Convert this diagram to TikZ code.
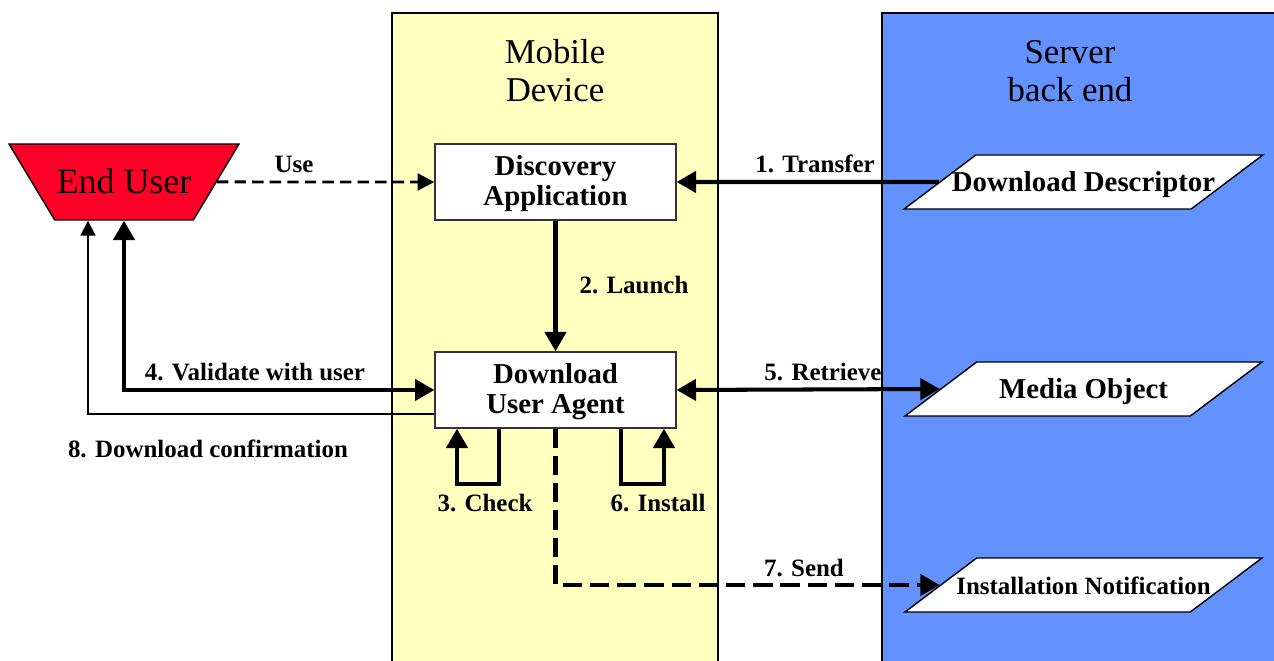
\documentclass[tikz,border=0pt]{standalone}
\usepackage{fontspec}
\setmainfont{Liberation Serif}
\usetikzlibrary{shapes.geometric, arrows.meta, positioning, calc}

\definecolor{deviceyellow}{RGB}{255,255,192}
\definecolor{serverblue}{RGB}{99,146,255}
\definecolor{userred}{RGB}{255,0,40}

\begin{document}
\begin{tikzpicture}[
        x=0.02cm, y=-0.02cm,
        panel/.style={draw=black, line width=0.9pt},
        panel title/.style={align=center, font=\fontsize{19.8}{21.6}\selectfont},
        agent box/.style={draw=black!80, line width=0.8pt, fill=white, align=center, minimum width=4.82cm, minimum height=1.52cm, text height=1.04cm, text depth=0.08cm, font=\bfseries\fontsize{16.4}{17.6}\selectfont},
        data node/.style={draw=black, line width=0.8pt, fill=white, trapezium, trapezium left angle=37, trapezium right angle=143, trapezium stretches body, minimum width=7.14cm, text height=0.48cm, text depth=0.08cm, inner xsep=-0.48cm, inner ysep=0.26cm, font=\bfseries\fontsize{16.4}{17.6}\selectfont},
        user node/.style={draw=black, line width=0.8pt, fill=userred, trapezium, shape border rotate=180, trapezium left angle=59, trapezium right angle=59, trapezium stretches body, minimum width=4.6cm, text height=0.56cm, text depth=0.1cm, inner xsep=1pt, inner ysep=0.43cm, font=\fontsize{20.4}{22}\selectfont},
        step label/.style={font=\bfseries\fontsize{14.2}{16}\selectfont, inner sep=1pt},
        flow arrow/.style={line width=2.3pt, -{Triangle[length=11pt, width=12pt]}},
        both arrow/.style={line width=2.3pt, {Triangle[length=11pt, width=12pt]}-{Triangle[length=11pt, width=12pt]}},
        thin arrow/.style={line width=1.1pt, -{Triangle[length=8.5pt, width=8.5pt]}},
        use arrow/.style={line width=1.7pt, dash pattern=on 6.5pt off 3.5pt, -{Triangle[length=9.5pt, width=9.5pt]}},
        send arrow/.style={line width=2.3pt, dash pattern=on 11pt off 4.5pt, -{Triangle[length=11pt, width=12pt]}}
    ]
    \useasboundingbox (0,0) rectangle (1274,661);

    % Panels
    \draw[panel, fill=deviceyellow] (392,13) rectangle (718,680);
    \draw[panel, fill=serverblue] (882,13) rectangle (1290,680);
    \node[panel title] (devicetitle) at (555,71) {Mobile\\Device};
    \node[panel title] (servertitle) at (1070,71) {Server\\back end};

    % Nodes
    \node[user node] (enduser) at (124,182) {End User};
    \node[agent box] (discovery) at (555.5,182) {Discovery\\Application};
    \node[agent box] (agent) at (555.5,390) {Download\\User Agent};
    \node[data node] (descriptor) at (1083.5,182) {Download Descriptor};
    \node[data node] (media) at (1083.5,389) {Media Object};
    \node[data node, font=\bfseries\fontsize{14.2}{16}\selectfont] (notification) at (1083.5,585) {Installation Notification};

    % Step labels
    \node[step label] (uselbl) at (294,164) {Use};
    \node[step label] (transferlbl) at (815,164) {1. Transfer};
    \node[step label] (launchlbl) at (634,285) {2. Launch};
    \node[step label] (checklbl) at (485,503) {3. Check};
    \node[step label] (validatelbl) at (255,372) {4. Validate with user};
    \node[step label] (retrievelbl) at (823,372) {5. Retrieve};
    \node[step label] (installlbl) at (658,503) {6. Install};
    \node[step label] (sendlbl) at (804,568) {7. Send};
    \node[step label] (confirmlbl) at (208,449) {8. Download confirmation};

    % Connectors
    \draw[use arrow] (enduser.east) -- (discovery.west);
    \draw[flow arrow] (descriptor.west) -- (discovery.east);
    \draw[flow arrow] (discovery.south) -- (agent.north);
    \draw[flow arrow] ([xshift=-1.13cm]agent.south) -- ++(0,55) -| ([xshift=-1.97cm]agent.south);
    \draw[both arrow] (enduser.south) |- (agent.west);
    \draw[both arrow] (agent.east) -- (media.west);
    \draw[flow arrow] ([xshift=1.31cm]agent.south) -- ++(0,55) -| ([xshift=2.17cm]agent.south);
    \draw[send arrow] (agent.south) |- (notification.west);
    \draw[thin arrow] ([yshift=-0.48cm]agent.west) -| ([xshift=-0.72cm]enduser.south);

\end{tikzpicture}
\end{document}
